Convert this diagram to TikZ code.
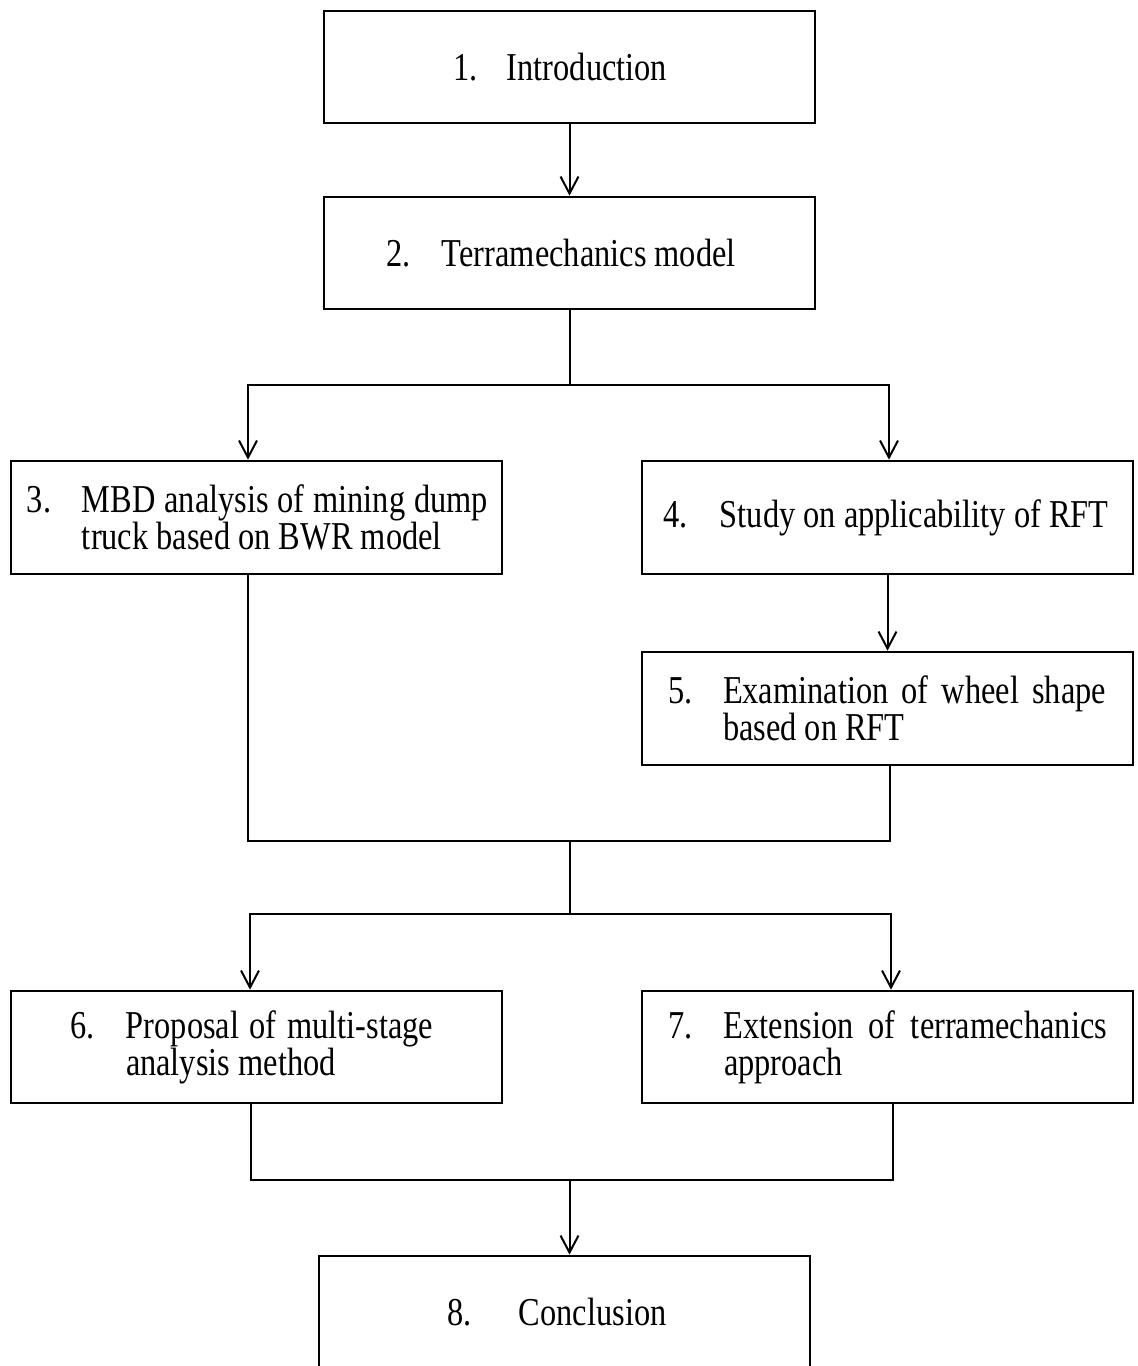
\documentclass[tikz,border=0pt]{standalone}
\usepackage{fontspec}
\setmainfont{Liberation Serif}[FakeStretch=0.82]
\usetikzlibrary{arrows.meta}
\tolerance=9999
\hyphenpenalty=10000
\exhyphenpenalty=10000
\newcommand{\secitem}[5]{\hspace*{#1pt}\makebox[#2pt][l]{#3}\parbox[t]{#4pt}{\lineskiplimit=-100pt\spaceskip=0pt\xspaceskip=0pt #5}}

\begin{document}
\begin{tikzpicture}[x=1pt,y=-1pt,
	box/.style={draw, line width=2.7pt, minimum width=491pt, minimum height=112pt, inner sep=0pt,
		text width=491pt, align=left, font=\fontsize{39.5}{37}\selectfont},
	link/.style={line width=2pt},
	>={Straight Barb[length=17pt,width=18pt]}]
\useasboundingbox (0,0) rectangle (1138,1366);

\draw (569.5,67) node[box](b1) {\secitem{129}{54}{1.}{300}{Introduction}};
\draw (569.5,253) node[box](b2) {\secitem{62}{56}{2.}{360}{Terramechanics model}};
\draw (256.5,517.5) node[box, minimum height=113pt](b3) {\secitem{16}{55}{3.}{406}{MBD analysis of mining dump truck based on BWR model}};
\draw (887.5,517.5) node[box, minimum height=113pt](b4) {\secitem{21}{57}{4.}{400}{Study on applicability of RFT}};
\draw (887.5,708.5) node[box, minimum height=113pt](b5) {\secitem{26}{55}{5.}{383}{Examination of wheel shape based on RFT}};
\draw (256.5,1047) node[box](b6) {\secitem{59}{56}{6.}{307}{Proposal of multi-stage analysis method}};
\draw (887.5,1047) node[box](b7) {\secitem{26}{56}{7.}{383}{Extension of terramechanics approach}};
\draw (564.5,1312) node[box](b8) {\secitem{128}{72}{8.}{300}{Conclusion}};

\coordinate (j1) at (569.5,385);
\coordinate (j2) at (569.5,841);
\coordinate (j3) at (569.5,914);
\coordinate (j4) at (569.5,1180);

\draw[link,->] (b1) -- (b2);
\draw[link] (b2) -- (j1);
\draw[link,->] (j1) -| ([xshift=-8.5pt]b3.north);
\draw[link,->] (j1) -| ([xshift=1.5pt]b4.north);
\draw[link,->] (b4) -- (b5);
\draw[link] ([xshift=-8.5pt]b3.south) |- (j2) -| ([xshift=2.5pt]b5.south);
\draw[link] (j2) -- (j3);
\draw[link,->] (j3) -| ([xshift=-6.5pt]b6.north);
\draw[link,->] (j3) -| ([xshift=3.5pt]b7.north);
\draw[link] ([xshift=-5.5pt]b6.south) |- (j4) -| ([xshift=5.5pt]b7.south);
\draw[link,->] (j4) -- (j4 |- b8.north);
\end{tikzpicture}
\end{document}
